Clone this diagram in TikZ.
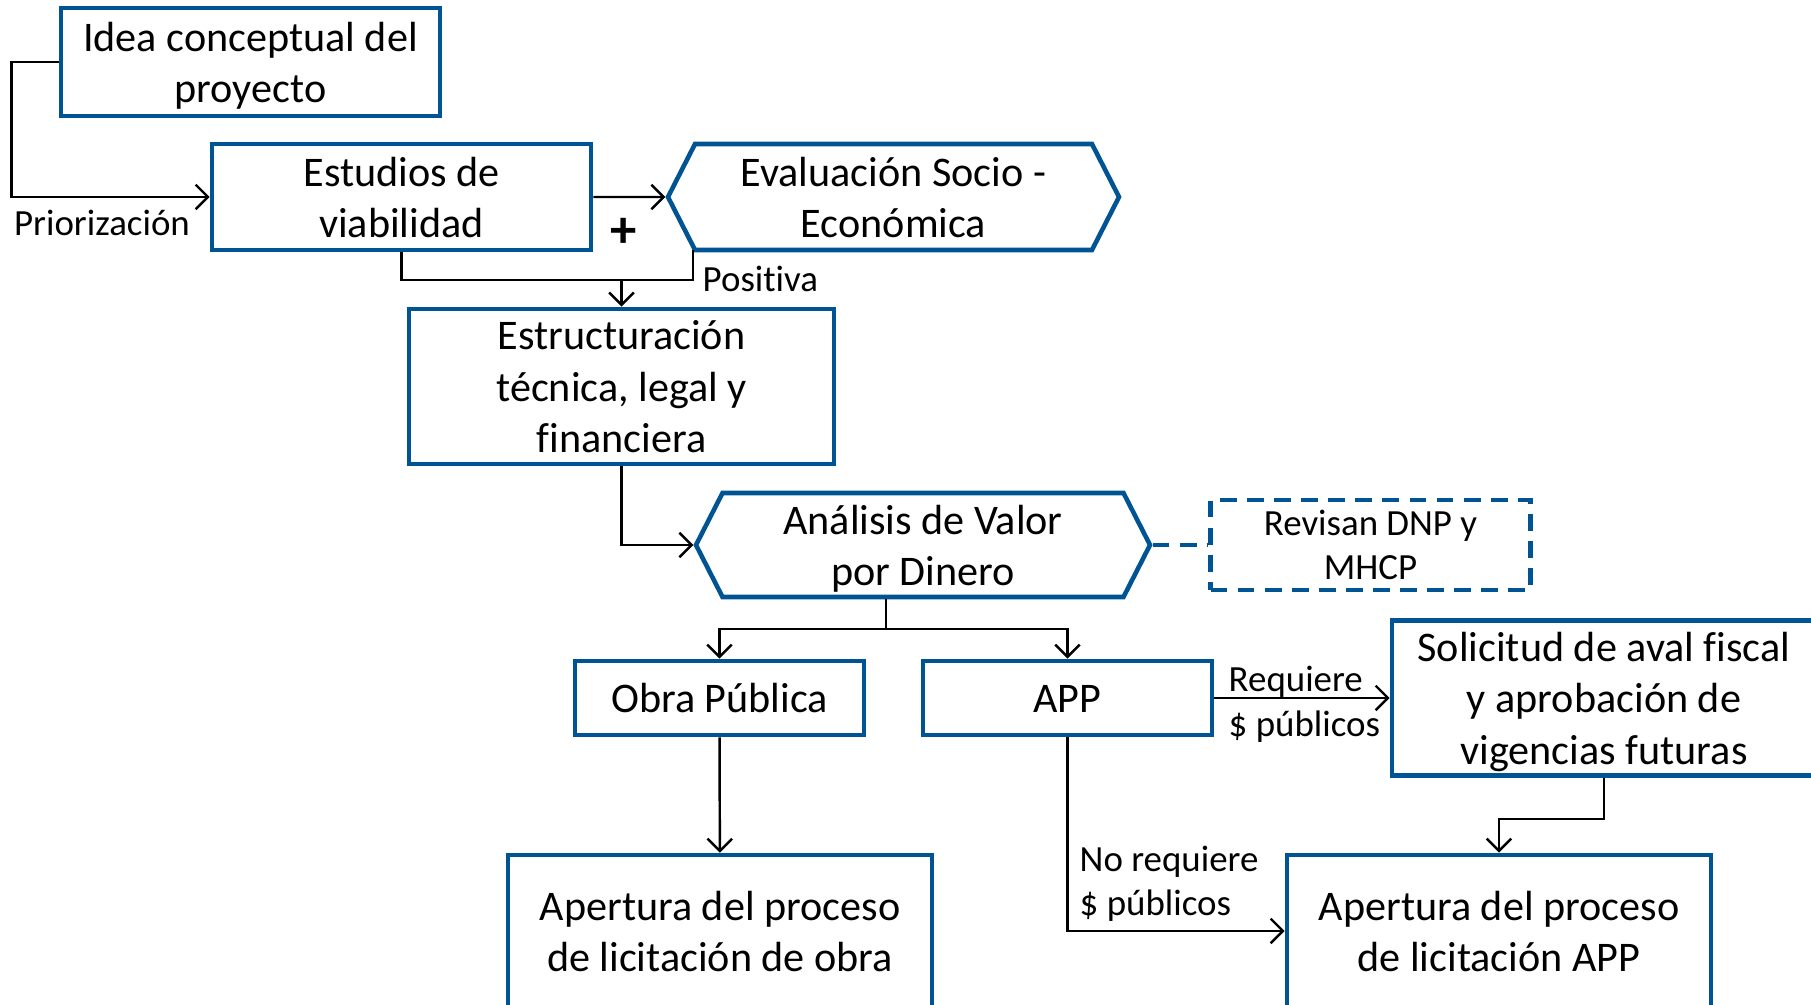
\documentclass[tikz,border=0pt]{standalone}
\usepackage{fontspec}
\setmainfont{Carlito}[Ligatures=NoCommon]
\usetikzlibrary{shapes, arrows.meta, positioning}
\definecolor{azul}{RGB}{0,84,148}
\newcommand{\puntal}{\rule[-0.275em]{0pt}{1.25em}}

\tikzset{
  caja/.style={draw=azul, line width=1.3pt, rectangle, align=center, inner sep=0pt,
    font=\fontsize{12}{14.6}\selectfont,
    execute at begin node=\puntal, execute at end node=\puntal},
  hexa/.style={caja, signal, signal to=east and west, signal pointer angle=126},
  revision/.style={caja, dash pattern=on 4.8pt off 2.9pt, font=\fontsize{10.5}{12.5}\selectfont},
  etiqueta/.style={font=\fontsize{10.5}{12.5}\selectfont, inner sep=0pt},
  flecha/.style={draw, line width=0.7pt, -{Straight Barb[length=3.5pt, width=7pt]}},
  linea/.style={draw, line width=0.7pt}
}

\begin{document}
\begin{tikzpicture}[x=0.1mm, y=-0.1mm]
  \useasboundingbox (0,0) rectangle (1811,1005);
  % cajas
  \node (idea) [caja, minimum width=37.9mm, minimum height=10.8mm] at (250.5,62) {\puntal Idea conceptual del\\proyecto};
  \node (estudios) [caja, minimum width=37.9mm, minimum height=10.6mm] at (401.5,197) {\puntal Estudios de\\viabilidad};
  \node (evaluacion) [hexa, right of=estudios, node distance=49.2mm, minimum width=45.1mm, minimum height=10.6mm] {\puntal Evaluación Socio -\\Económica};
  \node (estruct) [caja, minimum width=42.5mm, minimum height=15.1mm] at (621.5,386.5) {\puntal Estructuración\\técnica, legal y\\financiera};
  \node (analisis) [hexa, minimum width=45.4mm, minimum height=10.4mm] at (923,545) {\puntal Análisis de Valor\\por Dinero};
  \node (revisan) [revision, right of=analisis, node distance=44.75mm, minimum width=32mm, minimum height=8.9mm] {\puntal Revisan DNP y\\MHCP};
  \node (obra) [caja, minimum width=28.9mm, minimum height=7.4mm] at (719.5,698) {Obra Pública};
  \node (app) [caja, right of=obra, node distance=34.8mm, minimum width=28.9mm, minimum height=7.4mm] {APP};
  \node (solicitud) [caja, minimum width=42.4mm, minimum height=15.2mm] at (1604,698) {\puntal Solicitud de aval fiscal\\y aprobación de\\vigencias futuras};
  \node (aperturaobra) [caja, minimum width=42.4mm, minimum height=15.2mm] at (720,931) {\puntal Apertura del proceso\\de licitación de obra};
  \node (aperturaapp) [caja, minimum width=42.4mm, minimum height=15.2mm] at (1499,931) {\puntal Apertura del proceso\\de licitación APP};

  \node (mas) [font=\fontsize{15}{15}\bfseries] at (624,233) {+};

  % puntos de union
  \coordinate (merge) at (621.5,280);
  \coordinate (evalcorner) at (693,250);
  \coordinate (split) at (886,629);

  % conectores
  \draw[flecha] (idea.west) -- ++(-47,0) |- (estudios.west);
  \node (prior) [etiqueta] at (102,223) {Priorización};
  \draw[flecha] (estudios) -- (evaluacion);
  \draw[linea] (estudios.south) |- (merge) -| (evalcorner);
  \node (positiva) [etiqueta, anchor=west] at (702,279) {Positiva};
  \draw[flecha] (merge) -- (estruct.north);
  \draw[flecha] (estruct.south) |- (analisis.west);
  \draw[draw=azul, line width=1.3pt, dash pattern=on 4.8pt off 2.9pt] (analisis.east) -- (revisan.west);
  \draw[linea] (analisis.south -| split) -- (split);
  \draw[flecha] (split) -| (obra.north);
  \draw[flecha] (split) -| (app.north);
  \draw[flecha] (app) -- (solicitud);
  \node (requiere) [etiqueta, anchor=base west] at (1228,692) {Requiere};
  \node (publicos) [etiqueta, anchor=base west] at (1228,737) {\$ públicos};
  \draw[flecha] (obra) -- (aperturaobra);
  \draw[flecha] (app.south) |- (aperturaapp.west);
  \node (norequiere) [etiqueta, anchor=west, align=left] at (1079,884) {No requiere\\\$ públicos};
  \draw[flecha] (solicitud.south) -- ++(0,41) -| (aperturaapp.north);
\end{tikzpicture}
\end{document}
